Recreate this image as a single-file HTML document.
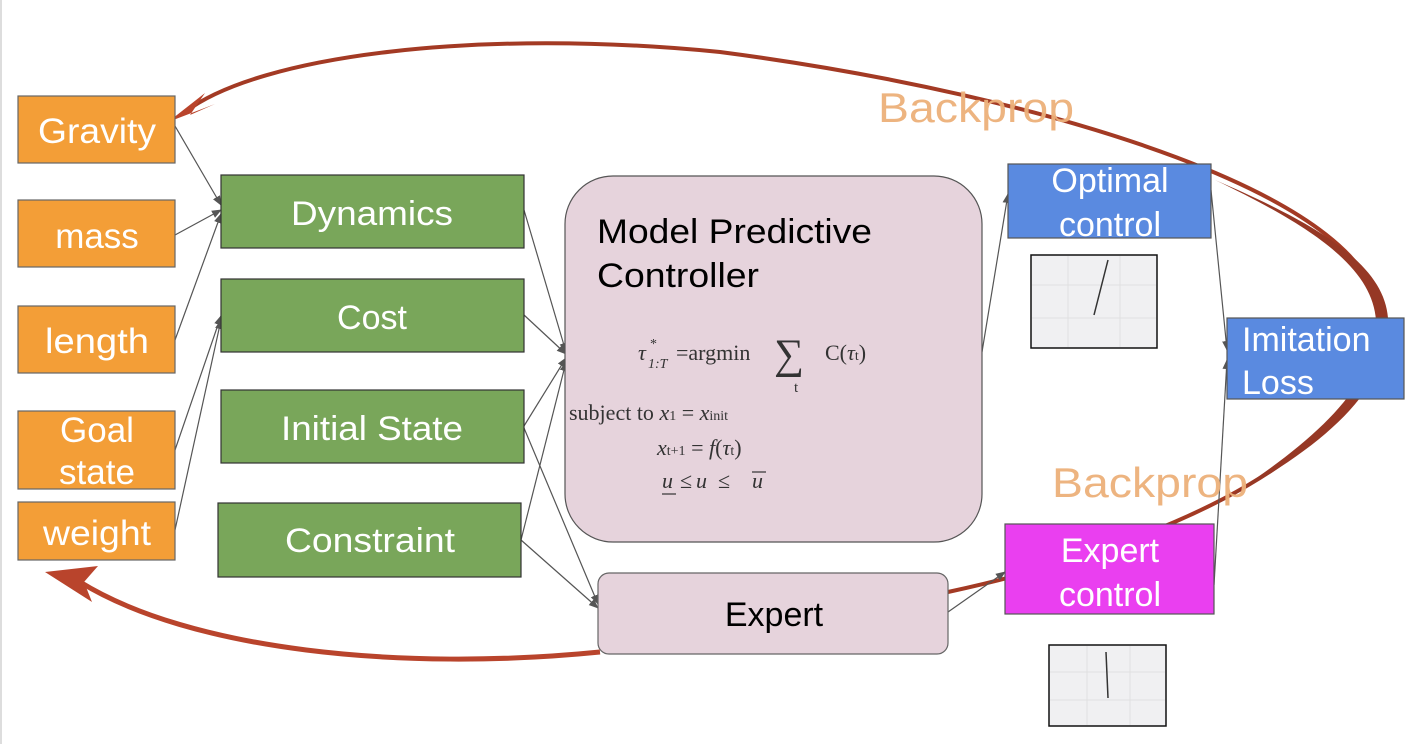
<!DOCTYPE html>
<html><head><meta charset="utf-8"><style>
html,body{margin:0;padding:0;background:#fff;}
svg{display:block}
.s{font-family:"Liberation Sans",sans-serif;}
.m{font-family:"Liberation Serif",serif;fill:#333;}
</style></head><body>
<svg width="1412" height="744" viewBox="0 0 1412 744" xmlns="http://www.w3.org/2000/svg">
<defs>
<marker id="a" markerWidth="10" markerHeight="10" refX="9" refY="5" orient="auto" markerUnits="userSpaceOnUse"><path d="M0,1 L10,5 L0,9 z" fill="#555"/></marker>
</defs>
<line x1="1" y1="0" x2="1" y2="744" stroke="#ddd" stroke-width="2"/>
<!-- red backprop loop -->
<path d="M948,592 C1120,555 1368,470 1378,322 C1388,200 1050,95 720,52 C480,28 260,55 185,112" fill="none" stroke="#a33a24" stroke-width="4"/>
<path d="M1215,180 C1320,230 1372,270 1376,320 C1380,380 1320,440 1215,505 C1330,445 1392,385 1388,318 C1384,265 1320,225 1215,180 z" fill="#963825"/>
<polygon points="168,122 205,93 190,115 215,104" fill="#b9442c"/>
<path d="M600,652 C400,672 190,650 80,582" fill="none" stroke="#b9442c" stroke-width="5"/>
<polygon points="45,572 98,566 84,582 92,602" fill="#b9442c"/>
<!-- connectors -->
<g stroke="#555" stroke-width="1.2" fill="none" marker-end="url(#a)">
<line x1="175" y1="126" x2="221" y2="205"/>
<line x1="175" y1="235" x2="221" y2="210"/>
<line x1="175" y1="340" x2="221" y2="214"/>
<line x1="175" y1="450" x2="221" y2="316"/>
<line x1="175" y1="530" x2="221" y2="320"/>
<line x1="524" y1="210" x2="566" y2="352"/>
<line x1="524" y1="315" x2="566" y2="354"/>
<line x1="524" y1="426" x2="566" y2="358"/>
<line x1="521" y1="540" x2="566" y2="362"/>
<line x1="524" y1="428" x2="598" y2="604"/>
<line x1="521" y1="540" x2="598" y2="608"/>
<line x1="982" y1="352" x2="1008" y2="194"/>
<line x1="948" y1="612" x2="1005" y2="572"/>
<line x1="1211" y1="190" x2="1227" y2="350"/>
<line x1="1214" y1="585" x2="1227" y2="360"/>
</g>
<!-- orange -->
<g fill="#f39e37" stroke="#666" stroke-width="1.2">
<rect x="18" y="96" width="157" height="67"/>
<rect x="18" y="200" width="157" height="67"/>
<rect x="18" y="306" width="157" height="67"/>
<rect x="18" y="411" width="157" height="78"/>
<rect x="18" y="502" width="157" height="58"/>
</g>
<g class="s" fill="#fff" font-size="35" text-anchor="middle">
<text x="97" y="143" textLength="118" lengthAdjust="spacingAndGlyphs">Gravity</text>
<text x="97" y="248">mass</text>
<text x="97" y="353" textLength="104" lengthAdjust="spacingAndGlyphs">length</text>
<text x="97" y="442">Goal</text>
<text x="97" y="484">state</text>
<text x="97" y="545" textLength="108" lengthAdjust="spacingAndGlyphs">weight</text>
</g>
<!-- green -->
<g fill="#79a65a" stroke="#333" stroke-width="1.2">
<rect x="221" y="175" width="303" height="73"/>
<rect x="221" y="279" width="303" height="73"/>
<rect x="221" y="390" width="303" height="73"/>
<rect x="218" y="503" width="303" height="74"/>
</g>
<g class="s" fill="#fff" font-size="34" text-anchor="middle">
<text x="372" y="225" textLength="162" lengthAdjust="spacingAndGlyphs">Dynamics</text>
<text x="372" y="329">Cost</text>
<text x="372" y="440" textLength="182" lengthAdjust="spacingAndGlyphs">Initial State</text>
<text x="370" y="552" textLength="170" lengthAdjust="spacingAndGlyphs">Constraint</text>
</g>
<!-- MPC -->
<rect x="565" y="176" width="417" height="366" rx="48" fill="#e6d3dc" stroke="#555" stroke-width="1.2"/>
<text class="s" x="597" y="243" font-size="34" fill="#000" textLength="275" lengthAdjust="spacingAndGlyphs">Model Predictive</text>
<text class="s" x="597" y="287" font-size="34" fill="#000" textLength="162" lengthAdjust="spacingAndGlyphs">Controller</text>
<g class="m" font-size="22">
<text x="638" y="360" font-style="italic">τ</text>
<text x="650" y="348" font-size="14">*</text>
<text x="648" y="368" font-size="14" font-style="italic">1:T</text>
<text x="676" y="360">=argmin</text>
<text x="774" y="368" font-size="42">∑</text>
<text x="794" y="392" font-size="15">t</text>
<text x="825" y="360">C(<tspan font-style="italic">τ</tspan><tspan font-size="14">t</tspan>)</text>
<text x="569" y="420">subject to <tspan font-style="italic">x</tspan><tspan font-size="14">1</tspan> = <tspan font-style="italic">x</tspan><tspan font-size="14">init</tspan></text>
<text x="657" y="455"><tspan font-style="italic">x</tspan><tspan font-size="14">t+1</tspan> = <tspan font-style="italic">f</tspan>(<tspan font-style="italic">τ</tspan><tspan font-size="14">t</tspan>)</text>
<text x="662" y="488" font-style="italic">u</text>
<text x="680" y="488">≤</text>
<text x="696" y="488" font-style="italic">u</text>
<text x="718" y="488">≤</text>
<text x="752" y="488" font-style="italic">u</text>
<line x1="662" y1="494" x2="676" y2="494" stroke="#333" stroke-width="1.2"/>
<line x1="752" y1="472" x2="766" y2="472" stroke="#333" stroke-width="1.2"/>
</g>
<!-- Expert -->
<rect x="598" y="573" width="350" height="81" rx="11" fill="#e6d3dc" stroke="#666" stroke-width="1.2"/>
<text class="s" x="774" y="626" font-size="34" text-anchor="middle" fill="#000">Expert</text>
<!-- right boxes -->
<rect x="1008" y="164" width="203" height="74" fill="#5a8ae0" stroke="#555" stroke-width="1.2"/>
<text class="s" x="1110" y="192" font-size="34" fill="#fff" text-anchor="middle">Optimal</text>
<text class="s" x="1110" y="236" font-size="34" fill="#fff" text-anchor="middle">control</text>
<rect x="1227" y="318" width="177" height="81" fill="#5a8ae0" stroke="#555" stroke-width="1.2"/>
<text class="s" x="1242" y="351" font-size="34" fill="#fff">Imitation</text>
<text class="s" x="1242" y="394" font-size="34" fill="#fff">Loss</text>
<rect x="1005" y="524" width="209" height="90" fill="#ea3ff0" stroke="#555" stroke-width="1.2"/>
<text class="s" x="1110" y="562" font-size="34" fill="#fff" text-anchor="middle">Expert</text>
<text class="s" x="1110" y="606" font-size="34" fill="#fff" text-anchor="middle">control</text>
<!-- plots -->
<rect x="1031" y="255" width="126" height="93" fill="#f0f0f2" stroke="#111" stroke-width="1.5"/>
<g stroke="#ddd" stroke-width="0.8"><line x1="1068" y1="256" x2="1068" y2="347"/><line x1="1120" y1="256" x2="1120" y2="347"/><line x1="1032" y1="285" x2="1156" y2="285"/><line x1="1032" y1="318" x2="1156" y2="318"/></g>
<line x1="1108" y1="260" x2="1094" y2="315" stroke="#333" stroke-width="1.5"/>
<rect x="1049" y="645" width="117" height="81" fill="#f0f0f2" stroke="#111" stroke-width="1.5"/>
<g stroke="#ddd" stroke-width="0.8"><line x1="1087" y1="646" x2="1087" y2="725"/><line x1="1130" y1="646" x2="1130" y2="725"/><line x1="1050" y1="672" x2="1165" y2="672"/><line x1="1050" y1="700" x2="1165" y2="700"/></g>
<line x1="1106" y1="652" x2="1108" y2="698" stroke="#333" stroke-width="1.5"/>
<!-- labels -->
<text class="s" x="878" y="122" font-size="42" fill="#edb07a" opacity="0.95" textLength="196" lengthAdjust="spacingAndGlyphs">Backprop</text>
<text class="s" x="1052" y="497" font-size="42" fill="#edb07a" opacity="0.95" textLength="196" lengthAdjust="spacingAndGlyphs">Backprop</text>
</svg>
</body></html>
